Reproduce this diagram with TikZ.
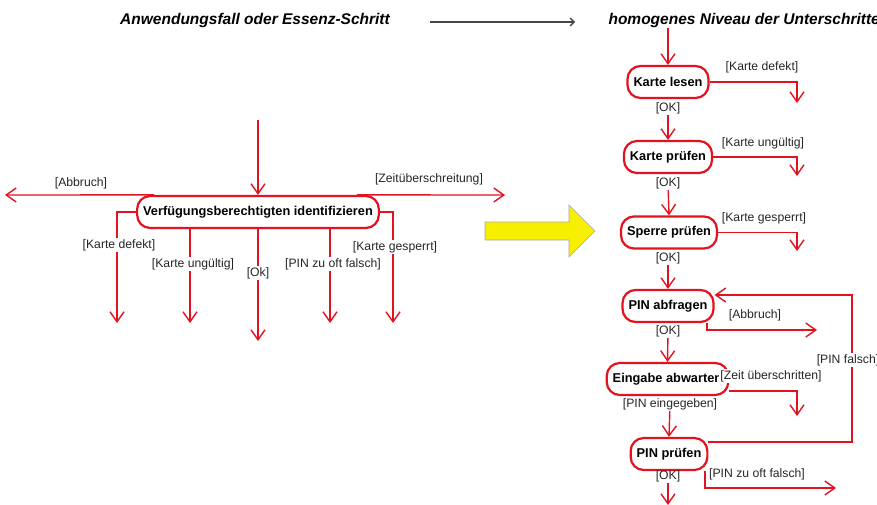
\documentclass[tikz,border=0pt]{standalone}
\usepackage{fontspec}
\setmainfont{Liberation Sans}
\usetikzlibrary{arrows.meta}
\definecolor{myred}{RGB}{226,18,30}
\definecolor{myyellow}{RGB}{246,240,0}
\definecolor{arrgray}{RGB}{70,70,70}
\begin{document}
\begin{tikzpicture}[x=1pt,y=-1pt,
  act/.style={draw=myred, line width=2.2pt, rounded corners=13pt, minimum height=32pt,
    inner xsep=6pt, fill=white, font=\fontsize{12.8}{15}\selectfont\bfseries},
  lab/.style={font=\fontsize{12.2}{14}\selectfont, text=black!85, inner sep=1pt},
  labw/.style={lab, fill=white},
  ttl/.style={font=\fontsize{15.5}{18}\selectfont\bfseries\itshape},
  flow/.style={draw=myred, line width=1.4pt,
    -{Straight Barb[length=10pt,width=14pt,line width=1.4pt]}},
  garr/.style={draw=arrgray, line width=1.3pt,
    -{Straight Barb[length=4pt,width=8pt,line width=1.3pt]}}
]
\useasboundingbox (0,0) rectangle (877,505);

% titles
\node[ttl] (t1) at (255,20) {Anwendungsfall oder Essenz-Schritt};
\node[ttl, anchor=west] (t2) at (605,20) {homogenes Niveau der Unterschritte};
\coordinate (g1) at (430,22);
\coordinate (g2) at (575,22);
\draw[garr] (g1) -- (g2);

% yellow arrow
\draw[draw=black!35, line width=0.6pt, fill=myyellow]
  (485,222) -- (569,222) -- (569,205) -- (595,231) -- (569,257) -- (569,240) -- (485,240) -- cycle;

% ---------------- left diagram ----------------
\node[act] (M) at (258,212) {Verfügungsberechtigten identifizieren};
\coordinate (mIn) at (258,120);
\coordinate (eAb) at (5,195);
\coordinate (eZe) at (505,195);
\coordinate (eKd) at (117,323);
\coordinate (eKu) at (190,323);
\coordinate (eOk) at (258,341);
\coordinate (ePz) at (330,323);
\coordinate (eKg) at (393,323);

\draw[flow] (mIn) -- (M.north);
\draw[flow] ([xshift=18pt]M.north west) -- (eAb);
\draw[flow] ([xshift=-23pt]M.north east) -- (eZe);
\draw[flow] (M.west) -| (eKd);
\draw[flow] (M.south -| eKu) -- (eKu);
\draw[flow] (M.south) -- (eOk);
\draw[flow] (M.south -| ePz) -- (ePz);
\draw[flow] (M.east) -| (eKg);

\node[lab] (lAb) at (81,183) {[Abbruch]};
\node[lab] (lZe) at (429,179) {[Zeitüberschreitung]};
\node[labw] (lKd) at (119,245) {[Karte defekt]};
\node[labw] (lKu) at (193,264) {[Karte ungültig]};
\node[labw] (lOk) at (258,273) {[Ok]};
\node[labw] (lPz) at (333,264) {[PIN zu oft falsch]};
\node[labw] (lKg) at (395,247) {[Karte gesperrt]};

% ---------------- right diagram ----------------
\node[act] (KL) at (668,82) {Karte lesen};
\node[act] (KP) at (668,157) {Karte prüfen};
\node[act] (SP) at (669,232.5) {Sperre prüfen};
\node[act] (PA) at (668,306) {PIN abfragen};
\node[act] (EA) at (667.5,379) {Eingabe abwarten};
\node[act] (PP) at (669,454) {PIN prüfen};

\node[lab] (o1) at (668,108) {[OK]};
\node[lab] (o2) at (668,183) {[OK]};
\node[lab] (o3) at (668,258) {[OK]};
\node[lab] (o4) at (668,331) {[OK]};
\node[lab] (o5) at (670,404) {[PIN eingegeben]};
\node[lab] (o6) at (668,476) {[OK]};

\coordinate (rIn) at (668,28);
\coordinate (rOut) at (668,505);
\coordinate (eKL) at (797,103);
\coordinate (eKP) at (797,176);
\coordinate (eSP) at (797,251);
\coordinate (cAb) at (707,330);
\coordinate (eAb2) at (817,330);
\coordinate (eEA) at (797,416);
\coordinate (cPz) at (705,488);
\coordinate (ePz2) at (836,488);
\coordinate (cL1) at (852,442);
\coordinate (cL2) at (852,295);

\draw[flow] (rIn) -- (KL.north);
\draw[flow] (o1) -- (KP.north);
\draw[flow] (o2) -- (SP.north);
\draw[flow] (o3) -- (PA.north);
\draw[flow] (o4) -- (EA.north);
\draw[flow] (o5) -- (PP.north);
\draw[flow] (o6) -- (rOut);

\draw[flow] (KL.east) -| (eKL);
\draw[flow] (KP.east) -| (eKP);
\draw[flow] (SP.east) -| (eSP);
\draw[flow] (PA.south -| cAb) -- (cAb) -- (eAb2);
\draw[flow] ([yshift=-12pt]EA.east) -| (eEA);
\draw[flow] (PP.south -| cPz) -- (cPz) -- (ePz2);
\draw[flow] ([yshift=12pt]PP.east) -- (cL1) -- (cL2) -- ([yshift=11pt]PA.east);

\node[lab] (lKL) at (762,67) {[Karte defekt]};
\node[lab] (lKP) at (763,143) {[Karte ungültig]};
\node[lab] (lSP) at (764,218) {[Karte gesperrt]};
\node[lab] (lPA) at (755,315) {[Abbruch]};
\node[labw] (lEA) at (771,376) {[Zeit überschritten]};
\node[lab] (lPP) at (757,474) {[PIN zu oft falsch]};
\node[labw] (lPf) at (848,360) {[PIN falsch]};
\end{tikzpicture}
\end{document}
